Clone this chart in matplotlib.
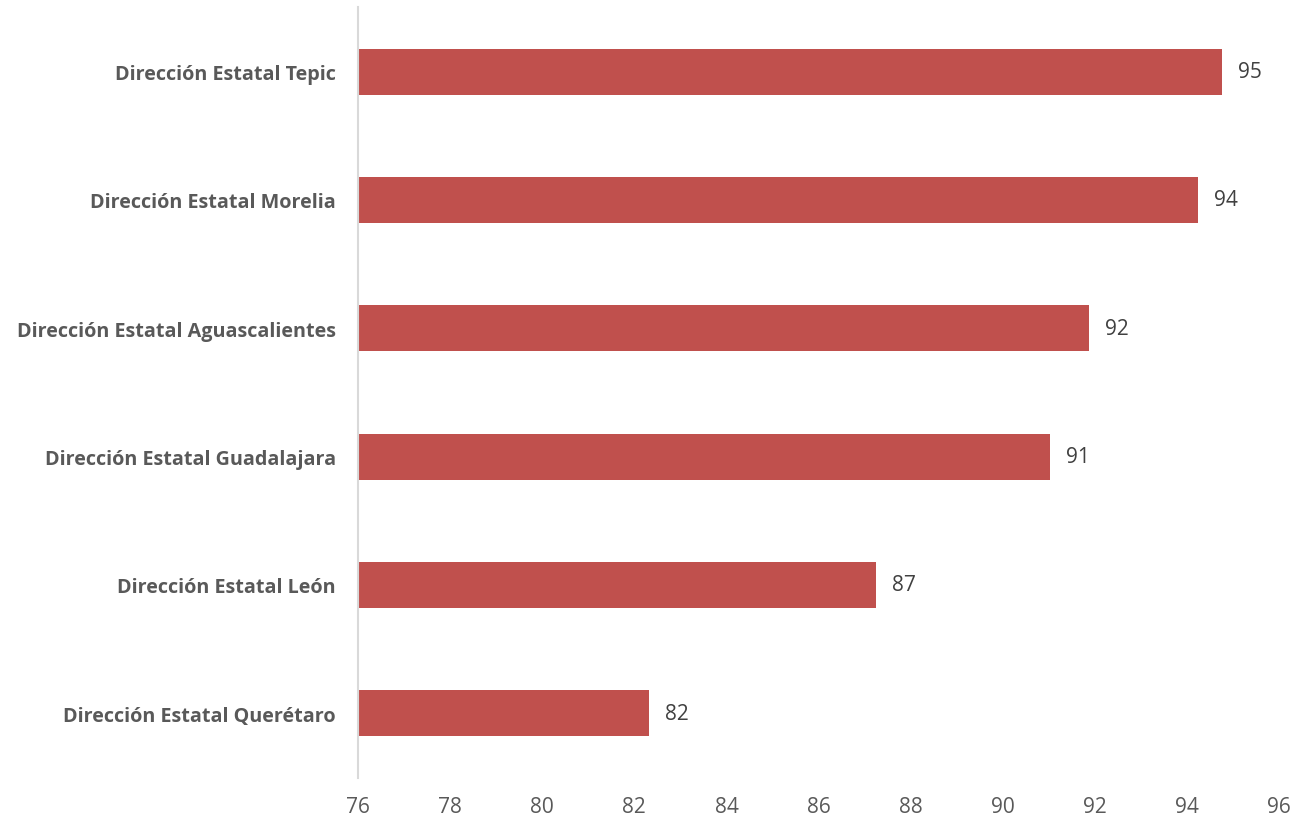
import matplotlib.pyplot as plt

plt.rcParams['font.family'] = ['Open Sans', 'DejaVu Sans']

categorias = ['Dirección Estatal Querétaro', 'Dirección Estatal León',
              'Dirección Estatal Guadalajara', 'Dirección Estatal Aguascalientes',
              'Dirección Estatal Morelia', 'Dirección Estatal Tepic']
valores = [82.32, 87.25, 91.03, 91.87, 94.24, 94.76]
ticks_x = [76, 78, 80, 82, 84, 86, 88, 90, 92, 94, 96]

fig = plt.figure(figsize=(13.03, 8.2), dpi=100)
ax = fig.add_axes([0.2748, 0.0506, 0.7068, 0.9391])

y = range(len(categorias))
ax.barh(y, [v - 76 for v in valores], left=76, height=0.36, color='#c0504d')

for i, v in zip(y, valores):
    ax.text(v + 0.35, i, '{:.0f}'.format(v), va='center', ha='left',
            fontsize=15, color='#404040')

ax.set_xlim(76, 96)
ax.set_ylim(-0.5, len(categorias) - 0.5)
ax.set_xticks(ticks_x)
ax.set_yticks(list(y))
ax.set_yticklabels(categorias, fontsize=14.2, fontweight='bold', color='#595959')
ax.tick_params(axis='x', length=0, labelsize=15, labelcolor='#595959', pad=13)
ax.tick_params(axis='y', length=0, pad=16)

for s in ['top', 'right', 'bottom']:
    ax.spines[s].set_visible(False)
ax.spines['left'].set_color('#d9d9d9')
ax.spines['left'].set_linewidth(1.5)

fig.savefig('out.png', dpi=100)
